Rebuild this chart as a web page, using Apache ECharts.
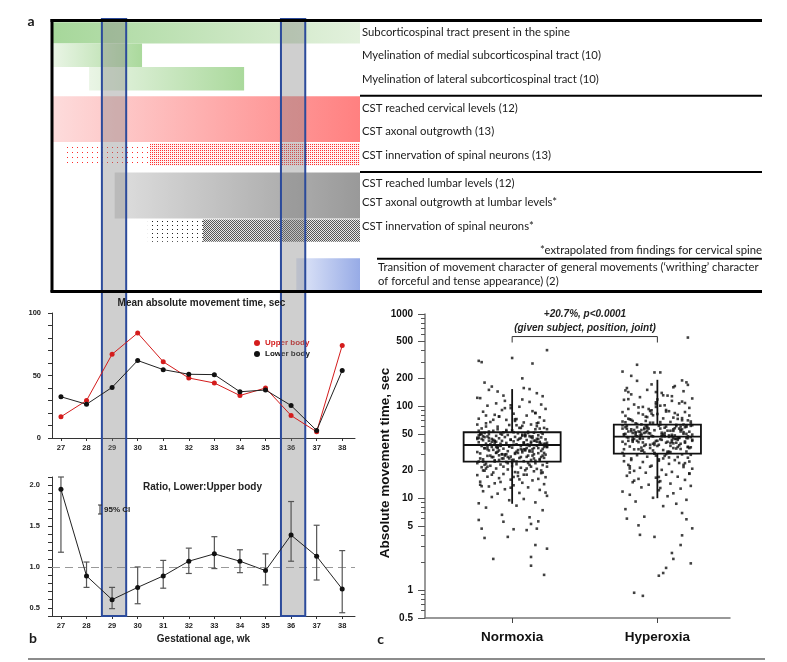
<!DOCTYPE html>
<html><head><meta charset="utf-8">
<script src="https://cdn.jsdelivr.net/npm/echarts@6/dist/echarts.min.js"></script>
<style>html,body{margin:0;padding:0;background:#fff}#c{width:787px;height:662px}</style>
</head><body><div id="c"></div>
<script>
// ---------------- DATA ----------------
const weeks = [27,28,29,30,31,32,33,34,35,36,37,38];
const upperBody = [17,30,67,84,61,48,44,34,40,18,5,74];
const lowerBody = [33,27,40.5,62,54.7,51,50.7,37,38.4,26,6,54];
const ratioMean = [1.95,0.89,0.60,0.75,0.89,1.07,1.16,1.07,0.955,1.39,1.13,0.73];
const ratioLow  = [1.18,0.75,0.49,0.55,0.74,0.92,0.98,0.93,0.78,1.07,0.84,0.44];
const ratioHigh = [2.10,1.06,0.75,1.00,1.08,1.23,1.37,1.21,1.16,1.80,1.51,1.20];
const highlightStart = [28.6, 35.6];
const highlightEnd = [29.55, 36.55];

const meanTickLabels = [0,50,100];
const meanTicks = [0,10,20,30,40,50,60,70,80,90,100];
const ratioTickLabels = [0.5,1.0,1.5,2.0];
const ratioTicks = [0.4,0.5,0.6,0.7,0.8,0.9,1.0,1.1,1.2,1.3,1.4,1.5,1.6,1.7,1.8,1.9,2.0,2.1];

const timelineLabels = [
  'Subcorticospinal tract present in the spine',
  'Myelination of medial subcorticospinal tract (10)',
  'Myelination of lateral subcorticospinal tract (10)',
  'CST reached cervical levels (12)',
  'CST axonal outgrowth (13)',
  'CST innervation of spinal neurons (13)',
  'CST reached lumbar levels (12)',
  'CST axonal outgrowth at lumbar levels*',
  'CST innervation of spinal neurons*'
];
const footnote = '*extrapolated from findings for cervical spine';
const transitionText = ['Transition of movement character of general movements (\u2018writhing\u2019 character','of forceful and tense appearance) (2)'];
// timeline bars: gestational weeks and lanes
const barStartWk = [26.65, 26.65, 28.1, 26.65, 27.15, 30.48, 29.1, 30.4, 32.55, 36.2];
const barEndWk   = [38.69, 30.17, 34.16, 38.69, 30.48, 38.69, 38.69, 32.55, 38.69, 38.69];
const barLaneTop = [0.1, 1.0, 2.0, 3.25, 5.25, 5.25, 6.5, 8.5, 8.5, 10.15];
const barLaneBottom = [1.0, 2.0, 3.0, 5.2, 6.2, 6.2, 8.45, 9.45, 9.45, 11.5];
const barFillKind = [0,1,1,2,3,4,5,6,7,8];

// panel c
const groupNames = ['Normoxia','Hyperoxia'];
const logTickLabels = [0.5,1,5,10,20,50,100,200,500,1000];
const logMinorTicks = [0.6,0.7,0.8,0.9,2,3,4,6,7,8,9,30,40,60,70,80,90,300,400,600,700,800,900];
const boxLow = [8.7, 10];
const boxQ1 = [25, 30.4];
const boxMedian = [37.8, 46.5];
const boxQ3 = [52, 63];
const boxHigh = [153, 193];
const bracketLow = 490, bracketHigh = 569;

const normoxiaValues = [6.2,6.6,7.4,7.9,8.3,8.8,9.0,9.5,9.8,
10.3,10.6,11.2,11.4,11.9,12.3,12.5,13.1,13.4,13.8,14.2,14.5,14.7,15.1,
15.6,15.9,16.2,16.5,16.9,17.1,17.4,17.8,18.0,18.3,18.7,19.0,19.2,19.6,19.9,20.1,20.5,20.8,21.0,21.4,21.7,22.0,22.3,22.5,22.9,23.2,23.4,23.8,24.1,24.3,24.7,25.0,25.2,
25.5,25.8,26.1,26.4,26.6,27.0,27.3,27.4,27.9,28.1,28.3,28.8,29.0,29.2,29.7,29.9,30.3,30.6,30.8,31.2,31.5,31.7,32.1,32.4,32.6,33.0,33.3,33.5,33.9,34.2,34.5,34.8,35.1,35.4,35.8,36.0,36.3,36.7,36.9,37.2,37.6,37.9,
38.2,38.5,38.9,39.1,39.6,39.8,40.2,40.5,40.9,41.2,41.4,41.9,42.2,42.6,42.8,43.3,43.5,44.0,44.2,44.7,45.0,45.3,45.7,46.1,46.3,46.8,47.1,47.5,47.7,48.2,48.6,48.8,49.3,49.6,50.0,50.2,50.7,51.1,51.4,51.9,
52.7,53.9,54.6,56.1,57.2,58.0,59.8,60.5,62.3,63.1,65.0,66.4,67.2,69.5,70.8,72.3,73.0,75.6,77.1,78.9,80.4,82.7,84.2,86.9,88.1,
90.6,93.2,95.1,98.4,101,104,107,111,114,118,123];
const normoxiaValues2 = [33,41,27,19,46,38,52,24,61,35,29,44,17,56,31,39,22,48,36,72,26,43,13,34,50,28,58,37,21,45,
32,40,25,66,30,47,18,42,35,54,23,38,79,29,49,16,36,44,27,63,33,20,41,31,53,26,95,37,46,24,
30,39,14,51,34,28,57,43,22,36,69,32,47,25,40,19,55,29,38,45,
35,27,62,42,31,21,49,37,84,26,44,33,58,18,39,30,52,24,41,36,
11.5,28,47,34,65,23,43,38,15,50,32,26,71,40,29,45,20,36,56,31,
42,27,102,35,48,22,39,33,60,25,44,30,13.5,37,53,28,41,34,77,24];
const normoxiaJitter = [12,-7,21,-18,3,-23,16,-2,8,-14,24,-10,5,-20,19,-5,11,-16,1,22,
-12,7,-22,14,-1,18,-9,23,-17,4,-24,10,-6,20,-13,2,15,-19,9,-3,
17,-11,6,-21,13,0,-15,21,-8,3,-18,11,24,-4,-23,8,16,-12,1,-20,
19,-7,5,22,-14,10,-1,-17,14,-9,23,-5,2,-22,18,-11,7,-24,12,-3,
20,-16,4,-13,9,21,-6,-19,15,0,-10,24,-2,6,-21,17,-8,11,-15,3,
22,-18,13,-4,8,-23,19,-12,1,-7,16,-20,10,-1,23,-14,5,-9,14,-24,
20,-5,2,-17,12,-11,7,18,-3,-22,9,-16,21,-8,4,-19,15,-6,11,-13,
0,24,-21,6,-10,17,-2,13,-18,8,-15,22,-4,3,-23,19,-9,10,-12,1,
16,-20,14,-7,23,-1,5,-17,20,-11,12,-5,7,-24,18,-14,2,-8,21,-19,
9,-3,15,-22,11,-6,24,-13,4,-16,17,-10,6,22,-2,-21,13,-9,8,-18];
const normoxiaOutliers = [[-23,310],[-21,300],[0,333],[14,290],[24,405],[7,200],[-19,180],[-16,150],[-14,163],[8,157],[12,153],[-10,144],[-6,130],[17,138],[21,128],[-22,122],
[-13,2.19],[13,2.3],[13,1.85],[22,1.47],[24,2.83],[16,3.1],[-19,3.7],[-3,3.8],[-21,4.67],[1,4.6],[10,4.5],[17,4.67],[-23,5.8],[-6,5.55],[13,5.25],[18,5.6]];

const hyperoxiaValues = [6.3,6.9,7.6,8.2,8.7,9.2,9.6,
10.1,10.5,10.9,11.3,11.8,12.2,12.7,13.1,13.6,14.0,14.4,14.9,15.3,15.8,16.2,16.7,17.1,17.5,18.0,18.4,18.9,19.3,19.8,
20.3,20.9,21.4,21.8,22.5,23.0,23.6,24.1,24.7,25.2,25.9,26.4,27.0,27.5,28.2,28.8,29.3,29.9,30.4,
31.0,31.6,32.1,32.8,33.3,33.9,34.6,35.1,35.7,36.4,36.9,37.5,38.2,38.7,39.4,40.0,40.6,41.3,41.8,42.5,43.1,43.7,44.4,45.0,45.6,46.3,
46.9,47.5,48.2,48.8,49.5,50.1,50.8,51.4,52.1,52.7,53.4,54.1,54.7,55.4,56.1,56.8,57.5,58.2,58.9,59.6,60.3,61.0,61.8,62.5,63.3,
64.5,66.0,67.3,68.9,70.2,71.8,73.5,75.0,76.8,78.4,80.3,82.1,84.0,86.2,88.5,90.7,93.1,95.6,98.0,
101,104,107,110,114,117,121,125,130,134,139,145,150,157,165,172,181,188,
27.7,31.3,34.2,37.9,41.0,44.8,47.9,51.0,53.9,57.0,60.6,22.2,25.5,29.6,35.4,39.8,43.4,49.1,55.8,61.4,66.7,72.6,79.5,87.3,96.8,108,119,128,142,18.6,15.5,12.9,40.3,45.3,50.5];
const hyperoxiaValues2 = [44,58,36,71,49,29,53,40,88,47,62,33,51,42,24,66,45,55,38,79,48,31,59,43,105,52,37,68,46,27,
57,41,93,50,34,63,45,21,54,39,74,48,30,61,44,118,52,36,69,47,26,56,42,83,49,32,60,45,17,53,
40,76,47,35,64,43,98,51,28,58,
46,38,67,50,23,55,41,86,48,33,62,44,131,53,37,70,45,19,57,42,
81,49,31,60,46,112,52,35,65,43,25,56,40,90,48,34,59,44,15,54,
39,73,47,29,61,42,102,51,36,68,45,22,57,41,84,50,32,63,47,148];
const hyperoxiaJitter = [-9,17,-22,4,13,-15,20,-3,7,-19,11,-24,1,16,-11,23,-6,9,-17,2,
19,-13,-1,14,-21,6,22,-8,10,-16,3,24,-12,18,-4,-20,8,15,-10,-23,
12,1,-18,21,-7,5,-14,17,-2,-24,9,20,-11,4,-16,13,-5,23,-19,0,
15,-8,-22,11,6,-13,19,-1,-17,24,2,-10,14,-20,8,21,-4,-15,10,-23,
18,-6,3,-12,22,-18,7,-2,16,-9,-21,12,5,-14,20,-7,1,-24,13,-11,
23,-3,9,-17,17,-19,4,11,-8,-22,14,0,-13,19,-5,6,-20,22,-10,2,
-16,15,-1,10,-23,24,-12,7,-18,3,18,-7,-21,12,-4,20,-14,8,-9,16,
-2,-24,21,5,-15,11,-6,13,-19,1,23,-11,9,-17,4,17,-8,-22,14,-3,
6,-13,19,-20,10,-1,22,-16,2,-10,15,-5,-23,7,-12,24,-18,11,0,-7,
18,-21,3,13,-14,20,-9,-4,16,-24,8,-17,21,-2,12,-11,5,-19,9,23];
const hyperoxiaOutliers = [[21,555],[-14,281],[-24,237],[-2,232],[2,232],[-18,213],[17,190],[21,170],[11,160],[-20,142],
[-16,0.94],[-10,0.87],[1,1.44],[4,1.54],[6,1.75],[11,2.19],[10,2.54],[23,1.96],[16,3.1],[17,3.95],[24,4.7],[-2,3.8],[-12,4.0],[-13,5.07],[20,5.9],[-21,6.0]];

// ---------------- STYLE / LAYOUT ----------------
const FB = '"Liberation Sans", Arial, sans-serif';
const FA = 'Lato, "Liberation Sans", sans-serif';
const FA_SIZE = 11.3;
const laneLabelY = [32.7, 55.7, 79.3, 108.3, 131, 155, 183.3, 202.7, 226.7];
const boxHalfWidth = [0.334, 0.30];

function makePattern(w, h, dots, color, bg) {
  const c = document.createElement('canvas'); c.width = w; c.height = h;
  const g = c.getContext('2d');
  if (bg) { g.fillStyle = bg; g.fillRect(0,0,w,h); }
  g.fillStyle = color; dots.forEach(d => g.fillRect(d[0], d[1], 1, 1));
  return {image: c, repeat: 'repeat'};
}
const LG = echarts.graphic.LinearGradient;
const fills = [
  new LG(0,0,1,0,[{offset:0,color:'#a6d79a'},{offset:1,color:'#e3f1dd'}]),
  new LG(0,0,1,0,[{offset:0,color:'#eaf5e6'},{offset:1,color:'#aad99c'}]),
  new LG(0,0,1,0,[{offset:0,color:'#fddcdc'},{offset:1,color:'#ff8080'}]),
  makePattern(5,5,[[2,2]],'#ff2a2a'),
  makePattern(2,2,[[0,0]],'#ff3030','#fff2f2'),
  new LG(0,0,1,0,[{offset:0,color:'#dedede'},{offset:1,color:'#999999'}]),
  makePattern(5,4,[[2,1]],'#222'),
  makePattern(2,2,[[0,0],[1,1]],'#555555','#e6e6e6'),
  new LG(0,0,1,0,[{offset:0,color:'#e2e8f9'},{offset:1,color:'#97abe6'}])
];

const timelineData = barStartWk.map((s,i)=>[s, barEndWk[i], barLaneTop[i], barLaneBottom[i], barFillKind[i]]);
const highlightData = highlightStart.map((s,i)=>[s, highlightEnd[i]]);
const upperData = weeks.map((w,i)=>[w, upperBody[i]]);
const lowerData = weeks.map((w,i)=>[w, lowerBody[i]]);
const ratioData = weeks.map((w,i)=>[w, ratioMean[i]]);
const ratioErrData = weeks.map((w,i)=>[w, ratioLow[i], ratioHigh[i]]);
const normoxiaPts = normoxiaValues.map((v,i)=>[1 + normoxiaJitter[i]/100, v])
  .concat(normoxiaValues2.map((v,i)=>[1 + hyperoxiaJitter[i]/100, v]))
  .concat(normoxiaOutliers.map(p=>[1 + p[0]/100, p[1]]));
const hyperoxiaPts = hyperoxiaValues.map((v,i)=>[2 + hyperoxiaJitter[i]/100, v])
  .concat(hyperoxiaValues2.map((v,i)=>[2 + normoxiaJitter[i]/100, v]))
  .concat(hyperoxiaOutliers.map(p=>[2 + p[0]/100, p[1]]));
const boxData = groupNames.map((n,i)=>[i+1, boxLow[i], boxQ1[i], boxMedian[i], boxQ3[i], boxHigh[i]]);

const axisTxt = {fontFamily: FB, fontWeight: 'bold', fontSize: 7.5, color: '#222'};

const graphic = [];
function gline(x1,y1,x2,y2,w,c,z){ graphic.push({type:'line', z: z||50, shape:{x1,y1,x2,y2}, style:{stroke:c||'#000', lineWidth:w}}); }
function gtext(x,y,t,o){ const rot = o && o.rotation; if (o) delete o.rotation;
  const el = {type:'text', z:60, x, y, style:Object.assign({text:t, fill:'#1a1a1a', fontFamily:FB, fontSize:10, align:'left', verticalAlign:'middle'}, o||{})};
  if (rot) el.rotation = rot; graphic.push(el); }

// panel a frame
gline(50.5, 20.5, 762, 20.5, 3);
gline(52, 19, 52, 292, 3);
gline(50.5, 291.5, 762, 291.5, 3);
gline(360, 95.7, 762, 95.7, 2);
gline(360, 172, 762, 172, 2);
gline(377, 258.8, 762, 258.8, 2);
timelineLabels.forEach((t,i)=>gtext(362, laneLabelY[i], t, {fontFamily:FA, fontSize:FA_SIZE}));
gtext(762, 250, footnote, {fontFamily:FA, fontSize:FA_SIZE, align:'right'});
gtext(378, 267.3, transitionText[0], {fontFamily:FA, fontSize:FA_SIZE});
gtext(378, 281.7, transitionText[1], {fontFamily:FA, fontSize:FA_SIZE});
gtext(31, 21, 'a', {fontFamily:FA, fontSize:14, fontWeight:'bold', align:'center'});
gtext(33, 638, 'b', {fontFamily:FA, fontSize:14, fontWeight:'bold', align:'center'});
gtext(380.5, 639, 'c', {fontFamily:FA, fontSize:14, fontWeight:'bold', align:'center'});
// panel b titles
gtext(201.5, 303, 'Mean absolute movement time, sec', {fontSize:10, fontWeight:'bold', align:'center', fill:'#222'});
gtext(202.5, 487, 'Ratio, Lower:Upper body', {fontSize:10, fontWeight:'bold', align:'center', fill:'#222'});
gtext(203.5, 639, 'Gestational age, wk', {fontSize:10, fontWeight:'bold', align:'center', fill:'#222'});
gline(100, 505, 100, 514, 1, '#333', 60); gline(98, 505, 102, 505, 1, '#333', 60); gline(98, 514, 102, 514, 1, '#333', 60);
gtext(104, 509.5, '95% CI', {fontSize:8, fontWeight:'bold', fill:'#222'});
// panel c texts
gtext(385, 463, 'Absolute movement time, sec', {fontSize:13.5, fontWeight:'bold', align:'center', fill:'#111', rotation:Math.PI/2});
gtext(585, 314, '+20.7%, p<0.0001', {fontSize:10, fontWeight:'bold', fontStyle:'italic', align:'center', fill:'#222'});
gtext(585, 328, '(given subject, position, joint)', {fontSize:10, fontWeight:'bold', fontStyle:'italic', align:'center', fill:'#222'});
gline(28, 659, 765, 659, 1.5, '#666');

const option = {
  animation: false,
  backgroundColor: '#fff',
  grid: [
    {left:52, right:427, top:20, bottom:372},
    {left:52, right:427, top:19, bottom:46},
    {left:52, right:432, top:313, bottom:224},
    {left:52, right:432, top:477, bottom:46},
    {left:425, right:57, top:314, bottom:44}
  ],
  xAxis: [
    {gridIndex:0, type:'value', min:26.65, max:38.69, show:false},
    {gridIndex:1, type:'value', min:26.65, max:38.69, show:false},
    {gridIndex:2, type:'value', min:26.65, max:38.5, splitLine:{show:false},
      axisLine:{lineStyle:{color:'#333', width:1}},
      axisTick:{customValues:weeks, length:3, lineStyle:{color:'#333'}},
      axisLabel:Object.assign({customValues:weeks, margin:6}, axisTxt)},
    {gridIndex:3, type:'value', min:26.65, max:38.5, splitLine:{show:false},
      axisLine:{lineStyle:{color:'#333', width:1}},
      axisTick:{customValues:weeks, length:3, lineStyle:{color:'#333'}},
      axisLabel:Object.assign({customValues:weeks, margin:6}, axisTxt)},
    {gridIndex:4, type:'value', min:0.4, max:2.5, splitLine:{show:false},
      axisLine:{lineStyle:{color:'#777', width:1.5}},
      axisTick:{customValues:[1,2], length:5, lineStyle:{color:'#444', width:1}},
      axisLabel:{customValues:[1,2], formatter:v=>groupNames[Math.round(v)-1], margin:12,
        fontFamily:FB, fontWeight:'bold', fontSize:13.5, color:'#111'}}
  ],
  yAxis: [
    {gridIndex:0, type:'value', min:0, max:11.5, inverse:true, show:false},
    {gridIndex:1, type:'value', min:0, max:1, show:false},
    {gridIndex:2, type:'value', min:0, max:100, splitLine:{show:false},
      axisLine:{show:true, lineStyle:{color:'#333', width:1}},
      axisTick:{show:true, customValues:meanTicks, length:4, lineStyle:{color:'#333'}},
      axisLabel:Object.assign({customValues:meanTickLabels, margin:11}, axisTxt)},
    {gridIndex:3, type:'value', min:0.4, max:2.1, splitLine:{show:false},
      axisLine:{show:true, lineStyle:{color:'#333', width:1}},
      axisTick:{show:true, customValues:ratioTicks, length:4, lineStyle:{color:'#333'}},
      axisLabel:Object.assign({customValues:ratioTickLabels, margin:12, formatter:v=>v.toFixed(1)}, axisTxt)},
    {gridIndex:4, type:'log', logBase:10, min:0.5, max:1000, position:'left', splitLine:{show:false},
      axisLine:{show:true, lineStyle:{color:'#777', width:1.5}},
      axisTick:{show:true, customValues:logTickLabels, length:7, lineStyle:{color:'#555'}},
      axisLabel:{customValues:logTickLabels, margin:12, formatter:v=>String(v),
        fontFamily:FB, fontWeight:'bold', fontSize:10, color:'#111'}},
    {gridIndex:4, type:'log', logBase:10, min:0.5, max:1000, position:'left', offset:0, splitLine:{show:false},
      axisLine:{show:false},
      axisTick:{show:true, customValues:logMinorTicks, length:4, lineStyle:{color:'#555'}},
      axisLabel:{show:false}}
  ],
  legend: {
    data:[{name:'Upper body', textStyle:{color:'#d41c1c'}}, {name:'Lower body'}],
    left:254, top:339, orient:'vertical', itemGap:3, itemWidth:6, itemHeight:6, icon:'circle',
    padding:0, selectedMode:false,
    textStyle:{fontFamily:FB, fontWeight:'bold', fontSize:8, color:'#111'}
  },
  graphic: graphic,
  series: [
    {type:'custom', name:'timeline', xAxisIndex:0, yAxisIndex:0, z:2, silent:true, clip:true,
      data: timelineData,
      renderItem:(params, api)=>{
        const p0 = api.coord([api.value(0), api.value(2)]);
        const p1 = api.coord([api.value(1), api.value(3)]);
        return {type:'rect', shape:{x:p0[0], y:p0[1], width:p1[0]-p0[0], height:p1[1]-p0[1]},
          style:{fill: fills[api.value(4)]}};
      }},
    {type:'custom', name:'highlight', xAxisIndex:1, yAxisIndex:1, z:5, silent:true,
      data: highlightData,
      renderItem:(params, api)=>{
        const p0 = api.coord([api.value(0), 1]);
        const p1 = api.coord([api.value(1), 0]);
        return {type:'rect', shape:{x:p0[0], y:p0[1], width:p1[0]-p0[0], height:p1[1]-p0[1]},
          style:{fill:'rgba(128,128,128,0.38)', stroke:'#2c4b9b', lineWidth:2}};
      }},
    {type:'line', name:'Upper body', xAxisIndex:2, yAxisIndex:2, z:10, data:upperData,
      symbol:'circle', symbolSize:5, itemStyle:{color:'#d41c1c'}, lineStyle:{color:'#d41c1c', width:1}},
    {type:'line', name:'Lower body', xAxisIndex:2, yAxisIndex:2, z:10, data:lowerData,
      symbol:'circle', symbolSize:5, itemStyle:{color:'#111'}, lineStyle:{color:'#222', width:1}},
    {type:'custom', name:'ratioErr', xAxisIndex:3, yAxisIndex:3, z:10, data:ratioErrData,
      renderItem:(params, api)=>{
        const lo = api.coord([api.value(0), api.value(1)]);
        const hi = api.coord([api.value(0), api.value(2)]);
        const st = {stroke:'#555', lineWidth:1.2};
        return {type:'group', children:[
          {type:'line', shape:{x1:lo[0], y1:lo[1], x2:hi[0], y2:hi[1]}, style:st},
          {type:'line', shape:{x1:lo[0]-3, y1:lo[1], x2:lo[0]+3, y2:lo[1]}, style:st},
          {type:'line', shape:{x1:hi[0]-3, y1:hi[1], x2:hi[0]+3, y2:hi[1]}, style:st}
        ]};
      }},
    {type:'line', name:'ratio', xAxisIndex:3, yAxisIndex:3, z:11, data:ratioData,
      symbol:'circle', symbolSize:5, itemStyle:{color:'#111'}, lineStyle:{color:'#222', width:1},
      markLine:{silent:true, symbol:'none', label:{show:false}, z:3,
        lineStyle:{type:[8,5], color:'#999', width:1.2}, data:[{yAxis:1}]}},
    {type:'scatter', name:'Normoxia', xAxisIndex:4, yAxisIndex:4, z:10, data:normoxiaPts,
      symbol:'rect', symbolSize:2.6, itemStyle:{color:'#111'}},
    {type:'scatter', name:'Hyperoxia', xAxisIndex:4, yAxisIndex:4, z:10, data:hyperoxiaPts,
      symbol:'rect', symbolSize:2.6, itemStyle:{color:'#111'}},
    {type:'custom', name:'box', xAxisIndex:4, yAxisIndex:4, z:12, data:boxData,
      renderItem:(params, api)=>{
        const i = params.dataIndex, x = api.value(0), hw = boxHalfWidth[i];
        const c = k => api.coord([x, api.value(k)]);
        const l = api.coord([x-hw, api.value(2)]), r = api.coord([x+hw, api.value(4)]);
        const m0 = api.coord([x-hw, api.value(3)]), m1 = api.coord([x+hw, api.value(3)]);
        const st = {stroke:'#111', lineWidth:1.8, fill:null};
        const lo = c(1), hi = c(5), q1 = c(2), q3 = c(4);
        return {type:'group', children:[
          {type:'rect', shape:{x:l[0], y:r[1], width:r[0]-l[0], height:l[1]-r[1]}, style:{stroke:'#111', lineWidth:1.8, fill:'none'}},
          {type:'line', shape:{x1:m0[0], y1:m0[1], x2:m1[0], y2:m1[1]}, style:st},
          {type:'line', shape:{x1:hi[0], y1:hi[1], x2:q3[0], y2:q3[1]}, style:st},
          {type:'line', shape:{x1:q1[0], y1:q1[1], x2:lo[0], y2:lo[1]}, style:st}
        ]};
      }},
    {type:'custom', name:'bracket', xAxisIndex:4, yAxisIndex:4, z:12, data:[[1,2]],
      renderItem:(params, api)=>{
        const a0 = api.coord([api.value(0), bracketLow]), a1 = api.coord([api.value(0), bracketHigh]);
        const b1 = api.coord([api.value(1), bracketHigh]), b0 = api.coord([api.value(1), bracketLow]);
        return {type:'polyline', shape:{points:[a0,a1,b1,b0]}, style:{stroke:'#333', lineWidth:1, fill:null}};
      }}
  ]
};
const chart = echarts.init(document.getElementById('c'), null, {renderer:'canvas', width:787, height:662});
chart.setOption(option);
</script>
</body></html>
